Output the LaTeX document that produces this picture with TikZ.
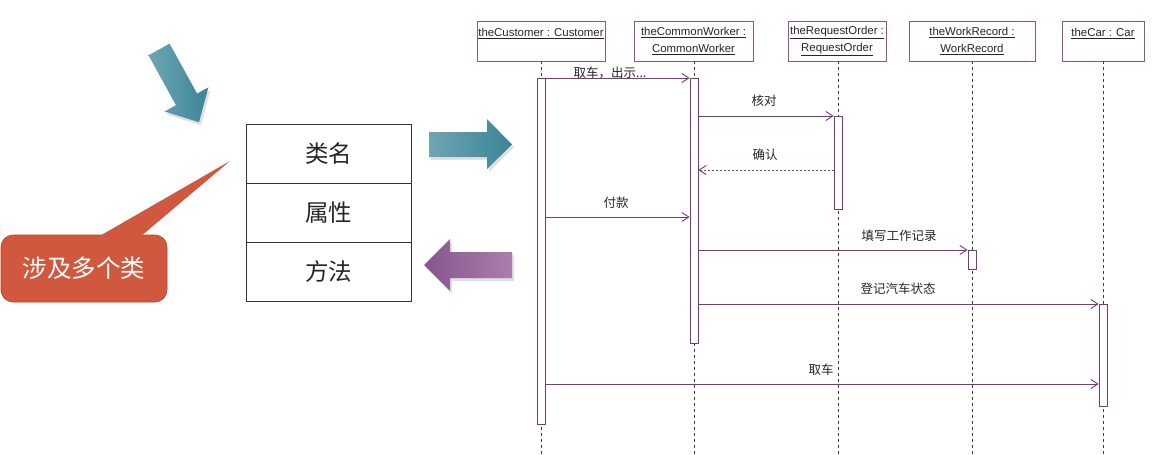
\documentclass[tikz,border=0pt]{standalone}
\usepackage{fontspec}
\setmainfont{Liberation Sans}
\newfontfamily\cjk{Noto Sans CJK SC}
\usetikzlibrary{arrows.meta,calc}
\definecolor{umlp}{RGB}{125,55,125}
\definecolor{umlbox}{RGB}{140,85,140}
\definecolor{lifec}{RGB}{60,60,60}
\definecolor{calloutc}{RGB}{208,88,62}
\definecolor{calloutd}{RGB}{180,70,50}
\definecolor{tealL}{RGB}{110,165,180}
\definecolor{tealD}{RGB}{58,133,150}
\definecolor{purpD}{RGB}{135,85,140}
\definecolor{purpL}{RGB}{172,125,172}
\tikzset{
  objbox/.style={draw=umlbox, line width=0.8pt, fill=white, minimum height=40pt,
    inner sep=0pt, align=center, font=\fontsize{11.4}{17.5}\selectfont, text=black!85},
  actbar/.style={draw=umlp, fill=white, line width=0.7pt, minimum width=8pt, inner sep=0pt},
  life/.style={draw=lifec, line width=0.7pt, dash pattern=on 3pt off 3pt},
  msg/.style={draw=umlp, line width=0.9pt, -{Straight Barb[length=7pt,width=9pt]}},
  reply/.style={msg, dash pattern=on 2pt off 2pt},
  lbl/.style={font=\cjk\fontsize{12.5}{14}\selectfont, text=black!85, inner sep=0pt},
  clsbox/.style={draw=black!80, line width=0.9pt, minimum width=165pt, minimum height=59pt,
    inner sep=0pt, font=\cjk\fontsize{23.5}{25}\selectfont, text=black!85},
  callout/.style={fill=calloutc, draw=calloutd, line width=0.6pt, rounded corners=12pt,
    minimum width=166pt, minimum height=67pt, inner sep=0pt,
    font=\cjk\fontsize{24.5}{26}\selectfont, text=white},
}
\begin{document}
\begin{tikzpicture}[x=1pt,y=-1pt]
\useasboundingbox (0,0) rectangle (1162,455);
\fill[white] (0,0) rectangle (1162,455);

% ---------- left part ----------
% diagonal teal arrow (shadow + body)
\fill[black, opacity=0.12] (171.5,46.7) -- (199,96.6) -- (210.4,90.4) -- (201,125.2)
  -- (166.6,114.5) -- (178,108.2) -- (150.5,58.3) -- cycle;
\shade[left color=tealL, right color=tealD] (169.5,43.7) -- (197,93.6) -- (208.4,87.4) -- (199,122.2)
  -- (164.6,111.5) -- (176,105.2) -- (148.5,55.3) -- cycle;

% class box
\node[clsbox] (cn) at (328.5,153.5) {类名};
\node[clsbox] (ca) at (328.5,212.5) {属性};
\node[clsbox] (cm) at (328.5,271.5) {方法};

% callout
\node[callout] (co) at (84,268.5) {涉及多个类};
\fill[calloutc] (98,237) -- (230,161) -- (140,237) -- cycle;

% right teal arrow
\fill[black, opacity=0.12] (431,135) -- (489,135) -- (489,122) -- (514,147) -- (489,172) -- (489,160) -- (431,160) -- cycle;
\shade[left color=tealL, right color=tealD] (429,132) -- (487,132) -- (487,119) -- (512,144.5)
  -- (487,169) -- (487,157) -- (429,157) -- cycle;

% purple arrow
\fill[black, opacity=0.12] (426,268) -- (452,242) -- (452,255) -- (514,255) -- (514,281) -- (452,281) -- (452,294) -- cycle;
\shade[left color=purpD, right color=purpL] (424,265) -- (450,239) -- (450,252) -- (512,252)
  -- (512,278) -- (450,278) -- (450,291) -- cycle;

% ---------- sequence diagram ----------
\node[objbox, minimum width=128pt] (oc) at (541,41) {\underline{theCustomer : Customer}\\\mbox{}};
\node[objbox, minimum width=119pt] (ow) at (693.5,41) {\underline{theCommonWorker :}\\\underline{CommonWorker}};
\node[objbox, minimum width=98pt] (or) at (837,41) {\underline{theRequestOrder :}\\\underline{RequestOrder}};
\node[objbox, minimum width=126pt] (owr) at (972,41) {\underline{theWorkRecord :}\\\underline{WorkRecord}};
\node[objbox, minimum width=82pt] (oca) at (1103,41) {\underline{theCar : Car}\\\mbox{}};

\coordinate (ec) at (541,455);
\coordinate (ew) at (694,455);
\coordinate (er) at (838,455);
\coordinate (ewr) at (972,455);
\coordinate (eca) at (1103,455);
\draw[life] (oc.south -| ec) -- (ec);
\draw[life] (ow.south -| ew) -- (ew);
\draw[life] (or.south -| er) -- (er);
\draw[life] (owr.south -| ewr) -- (ewr);
\draw[life] (oca.south -| eca) -- (eca);

\node[actbar, minimum height=346pt] (cb) at (541,251) {};
\node[actbar, minimum height=265pt] (wb) at (694,210.5) {};
\node[actbar, minimum height=93pt] (rb) at (838,162.5) {};
\node[actbar, minimum height=19pt] (wrb) at (972,259.5) {};
\node[actbar, minimum height=102pt] (carb) at (1103,355) {};

\draw[msg] (cb.east |- 0,78) -- (wb.west |- 0,78);
\node[lbl] (l1) at (610,73) {取车，出示...};
\draw[msg] (wb.east |- 0,116) -- (rb.west |- 0,116);
\node[lbl] (l2) at (764,101) {核对};
\draw[reply] (rb.west |- 0,170) -- (wb.east |- 0,170);
\node[lbl] (l3) at (765,155) {确认};
\draw[msg] (cb.east |- 0,217) -- (wb.west |- 0,217);
\node[lbl] (l4) at (616,203) {付款};
\draw[msg] (wb.east |- 0,250) -- (wrb.west |- 0,250);
\node[lbl] (l5) at (899,236) {填写工作记录};
\draw[msg] (wb.east |- 0,304) -- (carb.west |- 0,304);
\node[lbl] (l6) at (898,289) {登记汽车状态};
\draw[msg] (cb.east |- 0,384) -- (carb.west |- 0,384);
\node[lbl] (l7) at (821,370) {取车};
\end{tikzpicture}
\end{document}
